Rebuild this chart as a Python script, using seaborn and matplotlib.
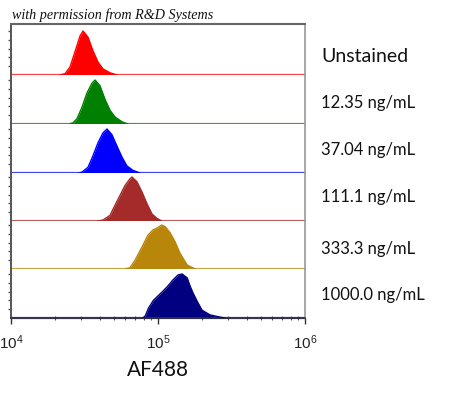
import numpy as np
import pandas as pd
import matplotlib
matplotlib.use("Agg")
import matplotlib.pyplot as plt
import seaborn as sns
from matplotlib.ticker import LogLocator, NullFormatter, FixedLocator

# ---- data ----
samples = ["Unstained", "12.35 ng/mL", "37.04 ng/mL", "111.1 ng/mL",
           "333.3 ng/mL", "1000.0 ng/mL"]
colors = ["#FF0000", "#008000", "#0000FF", "#A52A2A", "#B8860B", "#000080"]

# AF488 intensity (x) and relative count in % of max (y)
unstained_x = [2.15e4, 2.33e4, 2.52e4, 2.72e4, 2.95e4, 3.09e4, 3.34e4, 3.61e4,
               3.91e4, 4.22e4, 4.72e4, 5.26e4]
unstained_y = [0, 3, 18, 52, 89, 100, 86, 55, 29, 14, 5, 0]

c12_x = [2.5e4, 2.65e4, 2.81e4, 3.04e4, 3.29e4, 3.56e4, 3.73e4, 4.03e4, 4.36e4,
         4.72e4, 5.10e4, 5.69e4, 6.25e4]
c12_y = [0, 3, 12, 38, 71, 93, 100, 87, 56, 31, 16, 5, 0]

c37_x = [2.9e4, 3.04e4, 3.34e4, 3.61e4, 3.91e4, 4.22e4, 4.50e4, 4.86e4, 5.26e4,
         5.69e4, 6.15e4, 6.76e4, 7.55e4]
c37_y = [0, 2, 13, 39, 69, 91, 100, 87, 61, 36, 16, 6, 0]

c111_x = [3.9e4, 4.22e4, 4.72e4, 5.10e4, 5.51e4, 5.97e4, 6.45e4, 6.65e4,
          7.20e4, 7.78e4, 8.42e4, 9.10e4, 9.84e4, 10.6e4]
c111_y = [0, 2, 13, 36, 58, 81, 96, 100, 89, 66, 39, 16, 6, 0]

c333_x = [5.97e4, 6.45e4, 6.98e4, 7.78e4, 8.55e4, 9.25e4, 9.84e4, 10.6e4,
          11.2e4, 12.1e4, 13.1e4, 14.1e4, 15.8e4, 17.9e4]
c333_y = [0, 3, 20, 50, 77, 89, 93, 100, 96, 82, 61, 36, 9, 0]

c1000_x = [7.9e4, 8.2e4, 8.6e4, 9.3e4, 10.8e4, 11.7e4, 12.6e4, 13.7e4,
           14.6e4, 15.8e4, 16.5e4, 17.3e4, 18.4e4, 19.9e4, 22.6e4, 26.4e4,
           28.6e4]
c1000_y = [0, 5, 22, 40, 61, 73, 86, 98, 100, 91, 73, 57, 39, 18, 7, 2, 0]

xs = [unstained_x, c12_x, c37_x, c111_x, c333_x, c1000_x]
ys = [unstained_y, c12_y, c37_y, c111_y, c333_y, c1000_y]

df = pd.concat([pd.DataFrame({"AF488": x, "count": y, "sample": s})
                for x, y, s in zip(xs, ys, samples)], ignore_index=True)

# ---- layout ----
W, H = 450, 393
row_px = [51, 49, 49, 48, 48, 49]
label_baseline_px = [62, 108, 155, 202, 254, 300]

sns.set_style("white")
plt.rcParams["font.family"] = ["Liberation Sans", "DejaVu Sans"]

fig, axes = plt.subplots(6, 1, sharex=True, figsize=(W / 100, H / 100), dpi=100,
                         gridspec_kw=dict(height_ratios=row_px, hspace=0))
fig.subplots_adjust(left=11 / W, right=305 / W, top=1 - 24 / H, bottom=1 - 318 / H)

for i, (ax, s, c) in enumerate(zip(axes, samples, colors)):
    sub = df[df["sample"] == s]
    ax.set_xscale("log")
    ax.fill_between(sub["AF488"], 0, sub["count"], color=c, lw=0, zorder=2)
    sns.lineplot(data=sub, x="AF488", y="count", color=c, lw=1.0, ax=ax,
                 sort=True, estimator=None, zorder=3)
    ax.axhline(0, color=c, lw=1.6, alpha=0.75, clip_on=False, zorder=2)
    ax.set_ylim(0, row_px[i] / 44 * 100)
    ax.set_xlim(1e4, 1e6)
    ax.set_ylabel("")
    ax.set_xlabel("")
    for side in ["top", "bottom", "left", "right"]:
        ax.spines[side].set_visible(False)
    ax.spines["left"].set_visible(True)
    ax.spines["left"].set_color("#555555")
    ax.spines["left"].set_linewidth(1.4)
    ax.spines["right"].set_visible(True)
    ax.spines["right"].set_color("#9a9a9a")
    ax.spines["right"].set_linewidth(1.2)
    ax.yaxis.set_major_locator(FixedLocator([20, 40, 60, 80, 100]))
    ax.tick_params(axis="y", which="both", left=True, length=2, width=1,
                   color="#555555", labelleft=False)
    ax.tick_params(axis="x", which="both", bottom=False, labelbottom=False)
    ax.set_facecolor("white")
    ax.text(321 / W, 1 - label_baseline_px[i] / H, s, transform=fig.transFigure,
            ha="left", va="baseline", fontsize=14 if i == 0 else 12,
            family=["Lato", "DejaVu Sans"], color="#111111")

axes[0].spines["top"].set_visible(True)
axes[0].spines["top"].set_color("#666666")
axes[0].spines["top"].set_linewidth(1.5)

bx = axes[-1]
bx.spines["bottom"].set_visible(True)
bx.spines["bottom"].set_color("#333333")
bx.spines["bottom"].set_linewidth(1.2)
bx.set_zorder(5)
bx.xaxis.set_major_locator(LogLocator(base=10, numticks=10))
bx.xaxis.set_minor_locator(LogLocator(base=10, subs=np.arange(2, 10), numticks=20))
bx.xaxis.set_minor_formatter(NullFormatter())
bx.tick_params(axis="x", which="major", bottom=True, labelbottom=True, length=4,
               width=1, direction="out", color="#333333", labelsize=11, pad=7,
               labelcolor="#222222")
bx.tick_params(axis="x", which="minor", bottom=True, length=2.5, width=0.8,
               direction="inout", color="#555555")
bx.set_xlabel("AF488", fontsize=15, family=["Lato", "DejaVu Sans"], labelpad=6,
              color="#111111")

fig.text(12 / W, 1 - 19 / H, "with permission from R&D Systems",
         family=["Liberation Serif", "DejaVu Serif"], style="italic",
         fontsize=10.2, ha="left", va="baseline", color="#111111")

fig.savefig("out.png", dpi=100, facecolor="white")
